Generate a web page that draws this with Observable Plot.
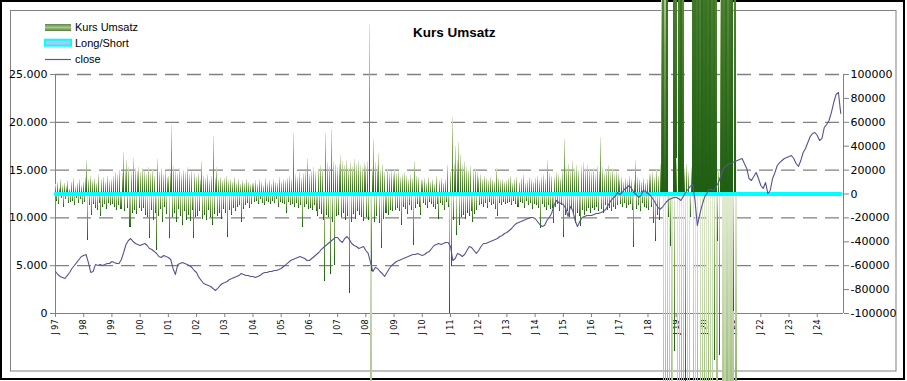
<!DOCTYPE html>
<html><head><meta charset="utf-8">
<script src="https://cdn.jsdelivr.net/npm/d3@7"></script>
<script src="https://cdn.jsdelivr.net/npm/@observablehq/plot@0.6"></script>
<style>body{margin:0;background:#fff}#chart svg{display:block}</style>
</head><body><div id="chart"></div>
<script>
// x-axis category labels (one per year, first = J 97)
const yearLabels = ["97","98","99","00","01","02","03","04","05","06","07","08","09","10","11","12","13","14","15","16","17","18","19","20","21","22","23","24"];

// "close" series, monthly values (left axis)
const closeValues = [
4390,4080,3870,3770,3660,3970,4290,4710,5020,5330,5650,5960,
6070,6170,5330,4290,4390,5120,5020,5120,5020,5120,5230,5230,
5440,5330,5230,5230,5650,6380,7220,7640,7840,7530,7320,7220,
7110,7220,7320,7110,6800,6690,6490,6280,5960,5860,6070,5960,
5860,5650,4710,4080,5120,5230,5330,5230,5120,5020,4810,4500,
4290,3770,3450,3140,3030,2930,2820,2620,2410,2620,2930,3140,
3240,3350,3560,3660,3770,3870,3970,4180,4080,3970,3970,3870,
3870,3770,3870,3970,4180,4290,4290,4390,4390,4500,4500,4600,
4710,4920,5120,5330,5540,5650,5750,5860,5960,5860,5750,5540,
5540,5750,5960,6170,6380,6690,6900,7110,7320,7530,7740,7950,
7950,7640,7430,7850,8050,7740,7320,7110,7010,6800,6900,7010,
6590,6280,5330,4390,4810,4710,4390,4180,3870,4290,4710,5020,
5230,5440,5540,5650,5750,5860,5960,6070,6170,6170,6280,6170,
6070,6170,6380,6490,6800,7110,7220,7320,7220,7320,7430,7430,
7010,5540,5750,6280,6170,5960,6170,6590,7010,6900,6590,6280,
6590,7010,7320,7320,7430,7530,7640,7740,7850,8050,8160,8370,
8470,8680,8890,9200,9410,9520,9620,9730,9830,9940,10040,10040,
9940,9620,9310,9100,9200,9730,10040,10460,11300,11820,11610,11510,
11400,10980,10150,11190,10770,9730,9100,9620,10040,10150,10250,10250,
10250,10350,10460,10460,10560,10670,10880,11300,11720,12030,12240,12660,
12450,12660,12970,13180,13390,13080,12660,12450,12130,12340,12870,12760,
12550,12340,12030,11610,11190,10880,11090,11400,11720,11920,12030,12130,
12130,12030,11820,12240,12660,12970,13290,13490,11820,9200,10350,11300,
12130,12550,12970,12970,12870,13290,13700,14430,15170,15380,15590,15690,
15790,15900,16000,16110,16210,15690,15170,14120,13910,14330,14750,14120,
13390,13080,13700,12550,12870,14120,14750,15480,15790,16000,16210,16320,
16420,16530,16210,15690,15380,16000,16840,17260,17890,18510,18830,18930,
18620,18100,18310,19460,19770,20190,21020,22070,22910,23120,20920
];

// "Long/Short" series: flat at 0 (right axis), same months as close
const longShort = closeValues.map(() => 0);

// "Kurs Umsatz" bars in thousands (right axis), 28 bars per year from J 97
const umsatz = [
8,-6,10,-9,5,12,-4,7,-11,9,-5,6,11,-8,4,-7,10,-6,13,-10,6,-4,9,-8,12,-5,7,-9,
10,-7,14,28,-39,12,-10,15,-18,11,-9,13,-12,9,-14,16,-8,-19,12,-11,14,-9,10,-13,15,-8,11,-10,
12,-9,15,-11,18,-14,16,-10,20,-13,17,35,-15,19,28,-12,22,-28,-28,18,-16,30,-14,21,-17,19,22,-12,
18,-15,21,-12,19,-18,16,-20,22,-37,17,-14,20,-22,15,-16,-47,29,-19,18,-13,21,-24,16,-11,19,-17,14,
15,-37,18,57,-20,23,-16,19,-24,17,-13,21,-19,16,-26,20,-15,18,-22,22,-18,16,-23,19,-14,-37,17,-20,
14,-19,17,-15,12,27,-21,15,-18,13,-22,16,-14,11,-20,15,-26,48,-17,13,22,-19,12,-16,14,-21,11,-13,
13,-16,15,-36,11,-14,12,-18,10,-12,14,-15,9,-11,12,-10,8,-24,11,-13,9,-10,12,-8,10,-12,8,-9,
9,-7,11,-6,8,-9,12,-5,10,-8,7,-10,13,-6,9,-7,11,-9,8,-6,12,-8,10,-5,9,-11,14,-7,
10,-8,12,-9,11,-16,13,-7,15,-10,12,-9,51,-11,16,-8,14,-12,18,-10,13,-28,17,-11,19,-9,30,-13,
16,-12,19,-14,22,-10,18,-15,-19,21,-13,24,-17,20,-22,-73,51,-18,26,-20,23,-67,54,-24,27,-60,25,-19,
22,-18,25,32,-20,27,-16,24,-22,28,-19,21,-83,26,-24,23,-17,29,-21,25,-15,27,-18,24,-20,22,-23,26,
24,-20,27,-22,142,-700,-65,22,46,-24,26,-19,23,34,-25,20,-46,25,-21,18,-16,21,-18,17,-14,19,-15,16,
20,-14,17,-12,19,-15,14,-26,16,-11,18,-13,15,-17,12,-10,16,-14,13,-43,27,-12,15,-9,14,-11,-18,12,
11,-8,13,-10,9,-12,14,-7,10,-9,12,-11,8,-13,15,-9,-21,11,-8,13,-10,9,-14,12,-7,24,-11,-100,
18,-61,64,-22,25,40,-35,28,43,-26,33,-20,24,-18,27,-21,22,-16,20,-19,23,-15,-24,19,-17,21,-14,18,
14,-10,16,-9,12,-11,15,-8,13,-12,11,-7,14,-10,12,-9,10,-13,21,-19,13,-8,11,-10,12,-7,10,-9,
11,-8,13,-7,15,-10,9,-6,12,-9,14,-11,10,-7,13,-8,16,-12,9,-6,11,-10,14,-8,12,-13,10,-9,
13,-10,15,-12,11,-29,14,-9,16,-11,12,-14,28,-10,17,-13,15,-12,-25,14,-11,18,-9,16,-15,13,-10,19,
-36,46,-18,22,-15,25,-20,19,-13,27,-17,21,-25,24,-16,20,-19,-27,23,-14,26,-18,21,-15,24,-12,20,-16,
18,-12,21,-14,16,-11,23,-15,19,47,-13,22,-16,17,-10,20,-14,24,-12,18,-15,21,-11,16,-13,19,-10,17,
12,-9,14,-11,10,-8,13,-12,11,-10,15,-9,12,-14,-45,11,28,-13,14,-10,12,-15,10,-8,13,-11,9,-12,
12,-14,16,-11,18,-25,14,-40,20,-18,15,-22,25,180,520,-640,210,-560,840,-500,-20,-760,-44,-600,-1040,700,-132,600,
30,-900,560,-720,1000,-480,460,-600,20,-160,25,-800,18,-700,-20,22,760,-580,900,-1200,640,-520,1100,540,-840,1200,-660,800,
-560,960,-1000,700,-480,1040,-760,600,-900,840,-139,520,-620,-40,20,-135,190,680,-720,560,-1040,900,-540,460,-800,720,-600,1000,
-700,-98,560,-460
];

const leftTicks = [0, 5000, 10000, 15000, 20000, 25000];
const rightTicks = [-100000,-80000,-60000,-40000,-20000,0,20000,40000,60000,80000,100000];
const xEnd = 27.93; // axis extent in years from J 97

const toRight = v => v * 8 - 100000; // left axis (0..25000) onto right axis (-100000..100000)
const deFmt = d3.formatLocale({decimal: ",", thousands: ".", grouping: [3], currency: ["", ""]}).format(",");

const closeData = closeValues.map((v, m) => ({t: m / 12, v: toRight(v)}));
const lsData = longShort.map((v, m) => ({t: m / 12, v: v * 1000}));
// very large bars are drawn a little wider (they overlap neighbours, as in the original)
const slotWidth = v => v >= 150 ? 2 : v <= -150 ? 1.5 : 1;
const barData = umsatz.map((v, i) => ({t0: i / 28, t1: (i + slotWidth(v)) / 28, v: v * 1000}));
const gridVals = leftTicks.filter(d => d > 0).map(toRight);

const svg = Plot.plot({
  width: 907, height: 381,
  marginLeft: 55, marginRight: 64, marginTop: 74, marginBottom: 68,
  style: {fontFamily: "DejaVu Sans", fontSize: "11px", background: "white", overflow: "hidden"},
  x: {domain: [0, xEnd]},
  y: {domain: [-100000, 100000]},
  marks: [
    Plot.ruleY(gridVals, {stroke: "#808080", strokeWidth: 1.3, strokeDasharray: "14,8"}),
    Plot.ruleX([0, xEnd], {stroke: "#808080"}),
    Plot.ruleY([-100000], {stroke: "#808080"}),
    Plot.axisY(leftTicks.map(toRight), {anchor: "left", tickFormat: d => deFmt(Math.round((d + 100000) / 8)), tickSize: 5, tickPadding: 3, stroke: "#808080", fill: "black", fontSize: 11, label: null}),
    Plot.axisY(rightTicks, {anchor: "right", tickFormat: d => String(d), tickSize: 5, tickPadding: 2, stroke: "#808080", fill: "black", fontSize: 11, label: null}),
    Plot.axisX(yearLabels.map((_, i) => i), {tickFormat: i => "J " + yearLabels[i], tickRotate: -90, tickSize: 4, tickPadding: 2, stroke: "#808080", fill: "black", fontSize: 8, label: null}),
    Plot.rect(barData, {x1: "t0", x2: "t1", y1: 0, y2: "v", fill: "url(#ugrad)", shapeRendering: "crispEdges"}),
    Plot.line(lsData, {x: "t", y: "v", stroke: "#00ffff", strokeWidth: 4}),
    Plot.line(closeData, {x: "t", y: "v", stroke: "#55558f", strokeWidth: 1.1})
  ]
});

const s = d3.select(svg);
const defs = s.insert("defs", ":first-child");
const g1 = defs.append("linearGradient").attr("id", "ugrad").attr("x1", 0).attr("y1", 0).attr("x2", 0).attr("y2", 1);
g1.append("stop").attr("offset", "0").attr("stop-color", "#e2ebd3");
g1.append("stop").attr("offset", "0.45").attr("stop-color", "#79a34f");
g1.append("stop").attr("offset", "1").attr("stop-color", "#1e5e12");
const g2 = defs.append("linearGradient").attr("id", "lgrad").attr("x1", 0).attr("y1", 0).attr("x2", 0).attr("y2", 1);
g2.append("stop").attr("offset", "0").attr("stop-color", "#5f8744");
g2.append("stop").attr("offset", "0.5").attr("stop-color", "#a9c48f");
g2.append("stop").attr("offset", "1").attr("stop-color", "#557f3a");

// frames behind everything
const frameG = s.insert("g", "defs + *");
frameG.append("rect").attr("x", 1).attr("y", 1).attr("width", 903).attr("height", 378)
  .attr("fill", "white").attr("stroke", "black").attr("stroke-width", 2);
frameG.append("rect").attr("x", 10.5).attr("y", 10.5).attr("width", 885.5).attr("height", 360.5)
  .attr("fill", "none").attr("stroke", "#808080").attr("stroke-width", 1);

// legend
const lg = s.append("g").attr("font-family", "Liberation Sans").attr("font-size", 11).attr("fill", "black").attr("text-anchor", "start");
lg.append("rect").attr("x", 45).attr("y", 24).attr("width", 26).attr("height", 7).attr("fill", "url(#lgrad)");
lg.append("rect").attr("x", 45).attr("y", 39.7).attr("width", 26).attr("height", 6).attr("fill", "#aac8f0").attr("stroke", "#00ffff").attr("stroke-width", 2);
lg.append("line").attr("x1", 45).attr("x2", 71).attr("y1", 59.5).attr("y2", 59.5).attr("stroke", "#5a5a9a").attr("stroke-width", 1.2);
const legendNames = ["Kurs Umsatz", "Long/Short", "close"];
legendNames.forEach((n, i) => lg.append("text").attr("x", 75).attr("y", 31.3 + i * 16).text(n));

// title
s.append("text").attr("x", 413).attr("y", 37).attr("text-anchor", "start").attr("font-family", "Liberation Sans").attr("font-weight", "bold")
  .attr("font-size", 13.5).attr("fill", "black").text("Kurs Umsatz");

document.getElementById("chart").appendChild(svg);
</script>
</body></html>
